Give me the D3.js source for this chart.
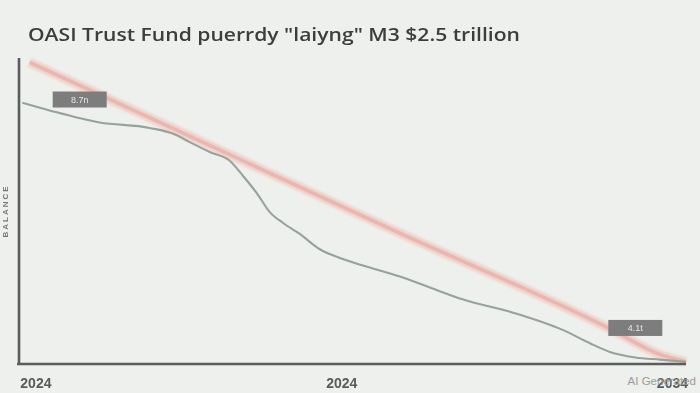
<!DOCTYPE html>
<html>
<head>
<meta charset="utf-8">
<script src="https://cdn.jsdelivr.net/npm/d3@7"></script>
<style>
  html, body { margin: 0; padding: 0; background: #edf0ec; }
  svg { display: block; }
</style>
</head>
<body>
<div id="chart"></div>
<script>
// progress along the horizon (0..100) and fund balance ($ trillion)
const balanceX = [0.5, 4.6, 12.1, 19.6, 23.4, 25.6, 28.6, 31.6, 33.6, 35.7, 37.6, 39.6, 42.1, 45.1, 48.1, 52.2, 57.1, 61.6, 66.6, 74.1, 81.6, 85.6, 88.6, 92.4, 96.1, 100];
const balanceY = [2.39, 2.32, 2.21, 2.16, 2.10, 2.03, 1.94, 1.86, 1.72, 1.56, 1.39, 1.29, 1.19, 1.05, 0.97, 0.89, 0.80, 0.70, 0.59, 0.47, 0.31, 0.19, 0.11, 0.06, 0.04, 0.02];
const trendX = [1.6, 57, 89, 96, 100];
const trendY = [2.76, 1.20, 0.31, 0.09, 0.02];
const tickPos = [0.2, 48.4, 100.3];
const tickLabels = ["2024", "2024", "2034"];
const callouts = [
  {x: 9.1, y: 2.42, text: "8.7n"},
  {x: 92.4, y: 0.33, text: "4.1t"}
];

const width = 700, height = 393;
const svg = d3.select('#chart').append('svg')
  .attr('width', width).attr('height', height);

const defs = svg.append('defs');
defs.append('filter').attr('id', 'soft')
  .append('feGaussianBlur').attr('stdDeviation', 0.75);
defs.append('filter').attr('id', 'softer')
  .append('feGaussianBlur').attr('stdDeviation', 1.3);

svg.append('rect').attr('width', width).attr('height', height).attr('fill', '#edf0ec');

const x = d3.scaleLinear().domain([0, 100]).range([19, 686]);
const y = d3.scaleLinear().domain([0, 2.8]).range([364, 58]);

const g = svg.append('g').attr('filter', 'url(#soft)');

// title
g.append('text')
  .attr('x', 28).attr('y', 41)
  .attr('font-family', 'Open Sans, sans-serif')
  .attr('font-size', 18)
  .attr('font-weight', 600)
  .attr('fill', '#3c3c3c')
  .attr('textLength', 492)
  .attr('lengthAdjust', 'spacingAndGlyphs')
  .text('OASI Trust Fund puerrdy "laiyng" M3 $2.5 trillion');

// trend line (thick pink)
const trendLine = d3.line().x(d => x(d[0])).y(d => y(d[1])).curve(d3.curveMonotoneX);
const trend = d3.zip(trendX, trendY);
g.append('path').datum(trend)
  .attr('d', trendLine)
  .attr('fill', 'none')
  .attr('stroke', '#f0d0ca')
  .attr('stroke-width', 9)
  .attr('filter', 'url(#softer)');
g.append('path').datum(trend)
  .attr('d', trendLine)
  .attr('fill', 'none')
  .attr('stroke', '#e9b7af')
  .attr('stroke-width', 3.5);

// balance line (gray)
const balLine = d3.line().x(d => x(d[0])).y(d => y(d[1])).curve(d3.curveMonotoneX);
g.append('path').datum(d3.zip(balanceX, balanceY))
  .attr('d', balLine)
  .attr('fill', 'none')
  .attr('stroke', '#98a29d')
  .attr('stroke-width', 2.1);

// axes
g.append('line')
  .attr('x1', x(0)).attr('x2', x(0))
  .attr('y1', 58).attr('y2', y(0))
  .attr('stroke', '#5a5d5b').attr('stroke-width', 2.6);
g.append('line')
  .attr('x1', x(0) - 2).attr('x2', x(100))
  .attr('y1', y(0)).attr('y2', y(0))
  .attr('stroke', '#5a5d5b').attr('stroke-width', 2.6);

// y axis title
g.append('text')
  .attr('transform', `translate(8,${(175 + 247) / 2}) rotate(-90)`)
  .attr('text-anchor', 'middle')
  .attr('font-family', 'Liberation Sans, Arial, sans-serif')
  .attr('font-size', 8)
  .attr('font-weight', 'bold')
  .attr('fill', '#777')
  .attr('letter-spacing', 2)
  .text('BALANCE');

// x tick labels
g.selectAll('.xt').data(tickPos).join('text')
  .attr('class', 'xt')
  .attr('x', d => x(d))
  .attr('y', 388)
  .attr('text-anchor', (d, i) => i === 0 ? 'start' : (i === 2 ? 'end' : 'middle'))
  .attr('font-family', 'Liberation Sans Narrow, Liberation Sans, sans-serif')
  .attr('font-size', 14)
  .attr('font-weight', 'bold')
  .attr('fill', '#5a5a5a')
  .text((d, i) => tickLabels[i]);

// callouts
callouts.forEach(c => {
  const cx = x(c.x), cy = y(c.y);
  g.append('rect')
    .attr('x', cx - 27).attr('y', cy - 8)
    .attr('width', 54).attr('height', 16)
    .attr('fill', '#7b7d7c');
  g.append('text')
    .attr('x', cx).attr('y', cy + 3.5)
    .attr('text-anchor', 'middle')
    .attr('font-family', 'Liberation Sans, Arial, sans-serif')
    .attr('font-size', 9)
    .attr('fill', '#e6e6e6')
    .text(c.text);
});

// watermark (overlaps the last year label, as in the original)
svg.append('text')
  .attr('x', 696).attr('y', 385)
  .attr('text-anchor', 'end')
  .attr('font-family', 'Liberation Sans, Arial, sans-serif')
  .attr('font-size', 11.5)
  .attr('fill', '#9a9c9b')
  .text('AI Generated');
</script>
</body>
</html>
